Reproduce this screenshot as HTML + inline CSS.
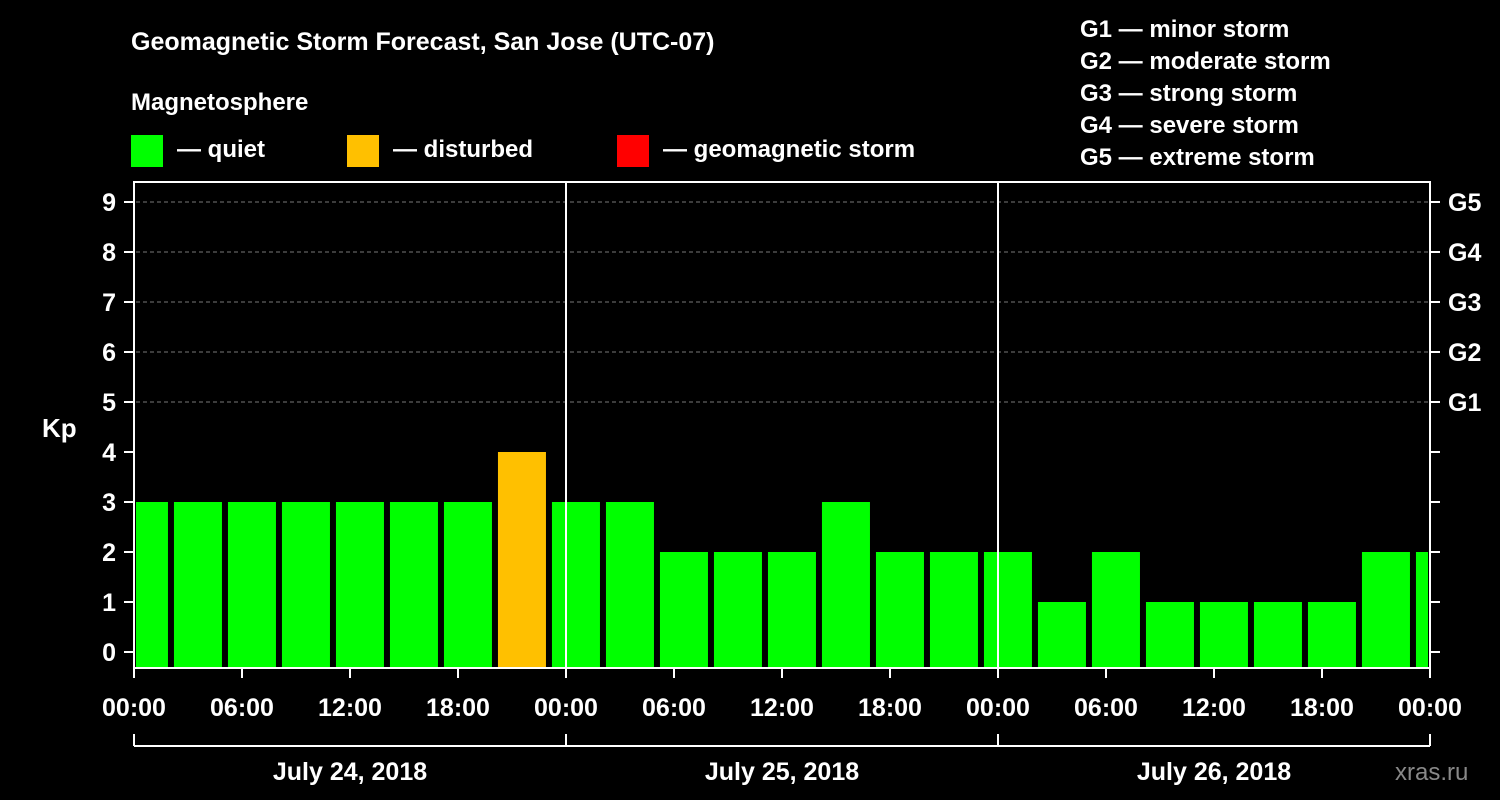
<!DOCTYPE html>
<html><head><meta charset="utf-8"><style>
html,body{margin:0;padding:0;background:#000;}
svg{display:block;font-family:"Liberation Sans",Arial,sans-serif;font-weight:bold;}
</style></head><body>
<svg id="chart" width="1500" height="800" viewBox="0 0 1500 800">
<rect x="0" y="0" width="1500" height="800" fill="#000"/>
<text x="131" y="50" fill="#fff" font-size="25">Geomagnetic Storm Forecast, San Jose (UTC-07)</text>
<text x="131" y="110" fill="#fff" font-size="24">Magnetosphere</text>
<g><rect x="131" y="135" width="32" height="32" fill="#00ff00"/><text x="177" y="157" fill="#fff" font-size="24">— quiet</text></g>
<g><rect x="347" y="135" width="32" height="32" fill="#ffc000"/><text x="393" y="157" fill="#fff" font-size="24">— disturbed</text></g>
<g><rect x="617" y="135" width="32" height="32" fill="#ff0000"/><text x="663" y="157" fill="#fff" font-size="24">— geomagnetic storm</text></g>
<g fill="#fff" font-size="24">
<text x="1080" y="37">G1 — minor storm</text>
<text x="1080" y="69">G2 — moderate storm</text>
<text x="1080" y="101">G3 — strong storm</text>
<text x="1080" y="133">G4 — severe storm</text>
<text x="1080" y="165">G5 — extreme storm</text>
</g>
<text x="42" y="437" fill="#fff" font-size="26">Kp</text>
<text x="1395" y="780" fill="#888" font-size="24" font-weight="normal">xras.ru</text>
<defs><clipPath id="plotclip"><rect x="136" y="182" width="1292" height="486"/></clipPath></defs>
<g id="grid"></g>
<g id="bars" clip-path="url(#plotclip)"></g>
<g id="axes"></g>
</svg>
<script>
const kpValues = [3,3,3,3,3,3,3,4,3,3,2,2,2,3,2,2,2,1,2,1,1,1,1,2,2];
const yTicks = [0,1,2,3,4,5,6,7,8,9];
const gLabels = ["G1","G2","G3","G4","G5"];
const xTickLabels = ["00:00","06:00","12:00","18:00","00:00","06:00","12:00","18:00","00:00","06:00","12:00","18:00","00:00"];
const dayLabels = ["July 24, 2018","July 25, 2018","July 26, 2018"];
const firstBarStartHour = -0.78;
const ns = "http://www.w3.org/2000/svg";
const X0 = 134, PXH = 18;
const xOf = h => X0 + h * PXH;
const yOf = v => 652 - 50 * v;
const BOTTOM = 668;
function el(tag, attrs, parent) {
  const e = document.createElementNS(ns, tag);
  for (const k in attrs) e.setAttribute(k, attrs[k]);
  parent.appendChild(e); return e;
}
const grid = document.getElementById('grid');
const bars = document.getElementById('bars');
const axes = document.getElementById('axes');
// grid lines
yTicks.filter(v => v >= 5).forEach(v => {
  const l = el('line', {x1: 136, x2: 1428, y1: yOf(v), y2: yOf(v), stroke: '#777', 'stroke-dasharray': '4,3', 'stroke-width': 1}, grid);
  
  
});
// bars
kpValues.forEach((v, i) => {
  const s = firstBarStartHour + 3 * i;
  const x = xOf(s);
  const c = v >= 5 ? '#ff0000' : (v >= 4 ? '#ffc000' : '#00ff00');
  const r = el('rect', {x: x, y: yOf(v), width: 48, height: BOTTOM - yOf(v), fill: c}, bars);
  
  
});
// plot frame
const frame = el('rect', {x: 134, y: 182, width: 1296, height: 486, fill: 'none', stroke: '#fff', 'stroke-width': 2}, axes);


// day separators
[1, 2].forEach(d => {
  const l = el('line', {x1: xOf(24 * d), x2: xOf(24 * d), y1: 182, y2: 668, stroke: '#fff', 'stroke-width': 2}, axes);
  
  
});
// y ticks
yTicks.forEach(v => {
  const y = yOf(v);
  el('line', {x1: 124, x2: 134, y1: y, y2: y, stroke: '#fff', 'stroke-width': 2}, axes);
  el('line', {x1: 1430, x2: 1440, y1: y, y2: y, stroke: '#fff', 'stroke-width': 2}, axes);
  const t = el('text', {x: 116, y: y + 9, fill: '#fff', 'font-size': 25, 'text-anchor': 'end'}, axes);
  t.textContent = v;
  
  
});
gLabels.forEach((g, i) => {
  const t = el('text', {x: 1448, y: yOf(5 + i) + 9, fill: '#fff', 'font-size': 25}, axes);
  t.textContent = g;
  
  
});
// x ticks
xTickLabels.forEach((lab, i) => {
  const x = xOf(6 * i);
  el('line', {x1: x, x2: x, y1: 668, y2: 678, stroke: '#fff', 'stroke-width': 2}, axes);
  const t = el('text', {x: x, y: 716, fill: '#fff', 'font-size': 25, 'text-anchor': 'middle'}, axes);
  t.textContent = lab;
  
  
});
// date bracket
const br = el('line', {x1: 134, x2: 1430, y1: 746, y2: 746, stroke: '#fff', 'stroke-width': 2}, axes);


[0, 1, 2, 3].forEach(d => el('line', {x1: xOf(24 * d), x2: xOf(24 * d), y1: 734, y2: 746, stroke: '#fff', 'stroke-width': 2}, axes));
dayLabels.forEach((lab, i) => {
  const t = el('text', {x: xOf(24 * i + 12), y: 780, fill: '#fff', 'font-size': 25, 'text-anchor': 'middle'}, axes);
  t.textContent = lab;
  
  
});
</script>
</body></html>
